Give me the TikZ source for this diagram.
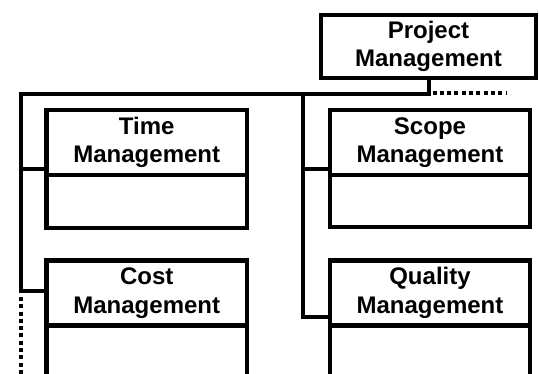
\documentclass[tikz,border=0pt]{standalone}
\usepackage{fontspec}
\setmainfont{Liberation Sans}
\usepackage{tikz}

\begin{document}
\begin{tikzpicture}[x=1pt,y=-1pt,
    head/.style={draw,line width=4.5pt,outer sep=0pt,inner sep=0pt,minimum width=200pt,minimum height=65pt,align=center,font=\fontsize{24}{28.5}\selectfont\bfseries},
    body/.style={draw,line width=4.5pt,outer sep=0pt,inner sep=0pt,minimum width=200pt,anchor=north},
    link/.style={line width=4pt},
    more/.style={line width=4pt,dash pattern=on 4pt off 3.3pt}]
      \useasboundingbox (0,0) rectangle (539,374);
      \clip (0,0) rectangle (539,374);
      % boxes
      \node[head,minimum width=215pt,minimum height=63pt] (project) at (428.5,46.5) {Project\\Management};
      \node[head,minimum width=200.5pt] (time) at (146.75,142.5) {Time\\Management};
      \node[body,minimum width=200.5pt,minimum height=53pt] (timebody) at (time.south) {};
      \node[head] (scope) at (430,142.5) {Scope\\Management};
      \node[body,minimum height=52pt] (scopebody) at (scope.south) {};
      \node[head,minimum width=200.5pt] (cost) at (146.75,293) {Cost\\Management};
      \node[body,minimum width=200.5pt,minimum height=70pt] (costbody) at (cost.south) {};
      \node[head] (quality) at (430,293) {Quality\\Management};
      \node[body,minimum height=70pt] (qualitybody) at (quality.south) {};
      % connectors
      \coordinate (corner) at (20.5,94.5);
      \coordinate (split) at (303,94.5);
      \coordinate (moreright) at (506,93.5);
      \coordinate (moredown) at (20.5,378);
      \draw[link] (project.south) |- (corner) |- ([yshift=2pt]cost.west);
      \draw[link] ([yshift=6pt]time.south west -| corner) -- ([yshift=6pt]time.south west);
      \draw[link] (split) |- ([yshift=8pt]quality.south west);
      \draw[link] ([yshift=6pt]scope.south west -| split) -- ([yshift=6pt]scope.south west);
      \draw[more] ([xshift=4pt]project.south |- moreright) -- (moreright);
      \draw[more] ([yshift=-4pt]corner |- cost.west) -- (moredown);
    \end{tikzpicture}
\end{document}
